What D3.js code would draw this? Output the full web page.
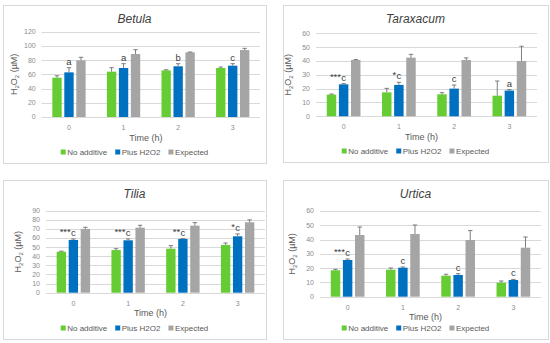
<!DOCTYPE html>
<html>
<head>
<meta charset="utf-8">
<script src="https://cdn.jsdelivr.net/npm/d3@7"></script>
<style>
  body { margin: 0; background: #fff; }
  svg { display: block; font-family: "Liberation Sans", "DejaVu Sans", sans-serif; }
</style>
</head>
<body>
<svg id="chart" width="550" height="343"></svg>
<script>
// values (µM), upper error only
let categories = ["0", "1", "2", "3"]
let seriesNames = ["No additive", "Plus H2O2", "Expected"]
let colors = ["#66CC33", "#0070C0", "#A5A5A5"]

let betulaNoAdd = [55.3, 63.8, 65.6, 68.9]
let betulaNoAddErr = [2.7, 5.6, 0.9, 1.4]
let betulaPlus = [62.8, 68.9, 71.3, 72.2]
let betulaPlusErr = [6.6, 6.1, 3.7, 2.8]
let betulaExp = [79.7, 88.6, 91.0, 94.2]
let betulaExpErr = [4.3, 6.1, 0.4, 2.4]
let betulaStars = ["", "", "", ""]
let betulaLetters = ["a", "a", "b", "c"]

let taraxNoAdd = [15.7, 17.3, 15.9, 14.9]
let taraxNoAddErr = [0.4, 2.9, 1.2, 10.6]
let taraxPlus = [23.1, 22.7, 20.0, 18.6]
let taraxPlusErr = [0.5, 1.9, 2.6, 0.7]
let taraxExp = [40.7, 42.4, 40.7, 40.0]
let taraxExpErr = [0.3, 2.4, 1.5, 10.6]
let taraxStars = ["***", "*", "", ""]
let taraxLetters = ["c", "c", "c", "a"]

let tiliaNoAdd = [45.0, 46.8, 48.3, 52.4]
let tiliaNoAddErr = [0.6, 1.5, 3.3, 2.1]
let tiliaPlus = [57.9, 57.5, 59.0, 61.9]
let tiliaPlusErr = [1.1, 1.5, 0.3, 2.6]
let tiliaExp = [70.0, 71.4, 73.6, 77.3]
let tiliaExpErr = [1.8, 2.6, 3.3, 2.6]
let tiliaStars = ["***", "***", "**", "*"]
let tiliaLetters = ["c", "c", "c", "c"]

let urticaNoAdd = [18.5, 18.9, 14.7, 9.8]
let urticaNoAddErr = [0.7, 1.2, 1.0, 1.2]
let urticaPlus = [25.7, 20.3, 15.2, 11.7]
let urticaPlusErr = [0.7, 0.5, 0.9, 0.4]
let urticaExp = [43.2, 43.9, 39.7, 34.3]
let urticaExpErr = [5.6, 6.3, 6.6, 7.5]
let urticaStars = ["***", "", "", ""]
let urticaLetters = ["c", "c", "c", "c"]

svg = d3.select("#chart")

// panel layout: border box, plot box, y max / step
panels = [
  {title: "Betula", box: [3, 5, 263, 158], plot: [41.7, 31.7, 260, 117], ymax: 120, step: 20,
   vals: [betulaNoAdd, betulaPlus, betulaExp], errs: [betulaNoAddErr, betulaPlusErr, betulaExpErr],
   stars: betulaStars, letters: betulaLetters},
  {title: "Taraxacum", box: [283, 5, 265, 157], plot: [316, 33.3, 537, 116.3], ymax: 60, step: 10,
   vals: [taraxNoAdd, taraxPlus, taraxExp], errs: [taraxNoAddErr, taraxPlusErr, taraxExpErr],
   stars: taraxStars, letters: taraxLetters},
  {title: "Tilia", box: [3, 180, 263, 159], plot: [46, 210.7, 265, 292.7], ymax: 90, step: 10,
   vals: [tiliaNoAdd, tiliaPlus, tiliaExp], errs: [tiliaNoAddErr, tiliaPlusErr, tiliaExpErr],
   stars: tiliaStars, letters: tiliaLetters},
  {title: "Urtica", box: [283, 180, 265, 159], plot: [320, 211, 541, 296.7], ymax: 60, step: 10,
   vals: [urticaNoAdd, urticaPlus, urticaExp], errs: [urticaNoAddErr, urticaPlusErr, urticaExpErr],
   stars: urticaStars, letters: urticaLetters}
]

function drawPanel(p){
    var g = svg.append("g")
    var [bx, by, bw, bh] = p.box
    var [left, top, right, bottom] = p.plot

    g.append("rect")
        .attr("x", bx + 0.5).attr("y", by + 0.5)
        .attr("width", bw).attr("height", bh)
        .attr("fill", "#fff")
        .attr("stroke", "#D9D9D9")

    var x = d3.scaleBand().domain(categories).range([left, right]).paddingInner(0.39).paddingOuter(0.195)
    var xs = d3.scaleBand().domain(d3.range(3)).range([0, x.bandwidth()]).paddingInner(0.22)
    var y = d3.scaleLinear().domain([0, p.ymax]).range([bottom, top])
    var ticks = d3.range(0, p.ymax + 0.001, p.step)

    // gridlines
    g.selectAll(".grid").data(ticks).enter().append("line")
        .attr("x1", left).attr("x2", right)
        .attr("y1", d => Math.round(y(d)) + 0.5).attr("y2", d => Math.round(y(d)) + 0.5)
        .attr("stroke", "#D9D9D9").attr("stroke-width", 1)

    // y tick labels
    g.selectAll(".ylab").data(ticks).enter().append("text")
        .attr("x", left - 6).attr("y", d => y(d)).attr("dy", "0.35em")
        .attr("text-anchor", "end")
        .attr("font-size", 7).attr("fill", "#8C8C8C")
        .text(d => d)

    // x tick labels
    g.selectAll(".xlab").data(categories).enter().append("text")
        .attr("x", d => x(d) + x.bandwidth() / 2).attr("y", bottom + 10.5)
        .attr("dy", "0.35em").attr("text-anchor", "middle")
        .attr("font-size", 7).attr("fill", "#8C8C8C")
        .text(d => d)

    // bars
    p.vals.forEach(function(series, s){
        var grp = g.append("g")
        grp.selectAll("rect").data(series).enter().append("rect")
            .attr("x", (d, i) => x(categories[i]) + xs(s))
            .attr("width", xs.bandwidth())
            .attr("y", d => y(d))
            .attr("height", d => bottom - y(d))
            .attr("fill", colors[s])

        // upper error bars
        var eb = grp.selectAll("g.err").data(series).enter().append("g")
        eb.append("line")
            .attr("x1", (d, i) => x(categories[i]) + xs(s) + xs.bandwidth() / 2)
            .attr("x2", (d, i) => x(categories[i]) + xs(s) + xs.bandwidth() / 2)
            .attr("y1", d => y(d))
            .attr("y2", (d, i) => y(d + p.errs[s][i]))
            .attr("stroke", "#6F6F6F").attr("stroke-width", 0.9)
        eb.append("line")
            .attr("x1", (d, i) => x(categories[i]) + xs(s) + xs.bandwidth() / 2 - 2.2)
            .attr("x2", (d, i) => x(categories[i]) + xs(s) + xs.bandwidth() / 2 + 2.2)
            .attr("y1", (d, i) => y(d + p.errs[s][i]))
            .attr("y2", (d, i) => y(d + p.errs[s][i]))
            .attr("stroke", "#6F6F6F").attr("stroke-width", 0.9)
    })

    // significance labels above the blue bars
    var top1 = p.vals[1].map((d, i) => d + p.errs[1][i])
    g.selectAll(".letter").data(p.letters).enter().append("text")
        .attr("x", (d, i) => x(categories[i]) + xs(1) + xs.bandwidth() / 2)
        .attr("y", (d, i) => y(top1[i]) - 3)
        .attr("text-anchor", "middle")
        .attr("font-size", 9.5).attr("fill", "#404040")
        .text(d => d)
    g.selectAll(".stars").data(p.stars).enter().append("text")
        .attr("x", (d, i) => x(categories[i]) + xs(1) + xs.bandwidth() / 2 - 2.6)
        .attr("y", (d, i) => y(top1[i]) - 4)
        .attr("text-anchor", "end")
        .attr("font-size", 9.5).attr("fill", "#404040")
        .text(d => d)

    // title
    g.append("text")
        .attr("x", bx + bw / 2).attr("y", by + 18)
        .attr("text-anchor", "middle")
        .attr("font-size", 12).attr("font-style", "italic").attr("fill", "#404040")
        .text(p.title)

    // axis titles
    g.append("text")
        .attr("x", (left + right) / 2 - 5).attr("y", bottom + 23.5)
        .attr("text-anchor", "middle")
        .attr("font-size", 9).attr("fill", "#595959")
        .text("Time (h)")

    var yt = g.append("text")
        .attr("transform", "translate(" + (left - 25) + "," + ((top + bottom) / 2) + ") rotate(-90)")
        .attr("text-anchor", "middle")
        .attr("font-size", 9).attr("fill", "#595959")
    yt.append("tspan").text("H")
    yt.append("tspan").text("2").attr("font-size", 6).attr("dy", 2)
    yt.append("tspan").text("O").attr("dy", -2)
    yt.append("tspan").text("2").attr("font-size", 6).attr("dy", 2)
    yt.append("tspan").text(" (µM)").attr("dy", -2)

    // legend, items laid out from measured text widths
    var ly = by + bh - 11
    var leg = g.append("g")
    var cur = 0
    seriesNames.forEach(function(name, s){
        leg.append("rect")
            .attr("x", cur).attr("y", ly - 2.5)
            .attr("width", 5).attr("height", 5)
            .attr("fill", colors[s])
        var t = leg.append("text")
            .attr("x", cur + 6.5).attr("y", ly).attr("dy", "0.35em")
            .attr("font-size", 8).attr("fill", "#595959")
            .text(name)
        cur += 6.5 + t.node().getComputedTextLength() + 8
    })
    var total = cur - 8
    leg.attr("transform", "translate(" + (bx + bw / 2 - total / 2) + ",0)")
}

panels.forEach(drawPanel)
</script>
</body>
</html>
